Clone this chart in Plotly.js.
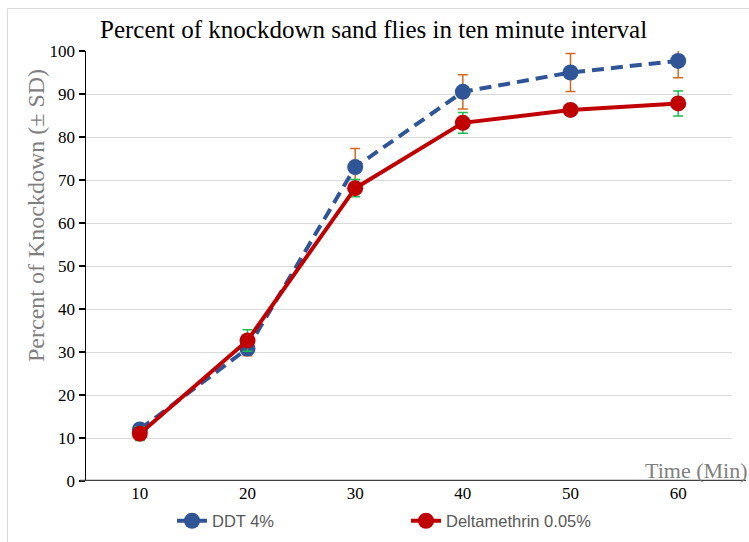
<!DOCTYPE html>
<html>
<head>
<meta charset="utf-8">
<script src="https://cdn.plot.ly/plotly-3.0.1.min.js"></script>
<style>html,body{margin:0;padding:0;background:#fff;}#chart{width:749px;height:542px;}</style>
</head>
<body>
<div id="chart"></div>
<script>
const times = [10, 20, 30, 40, 50, 60];
const ddt = [12, 30.8, 73, 90.5, 95, 97.7];
const ddtSD = [1.0, 1.7, 4.3, 4.0, 4.4, 3.9];
const delta = [11, 32.7, 68.1, 83.3, 86.3, 87.8];
const deltaSD = [1.6, 2.5, 2.0, 2.4, 0.4, 2.9];
const yTicks = [0, 10, 20, 30, 40, 50, 60, 70, 80, 90, 100];

const W = 749, H = 542, L = 86, R = 17, T = 51, B = 61;
const pw = W - L - R;
const px = v => (v - L) / pw;

const traces = [
  {
    x: times, y: ddt, name: 'DDT 4%', type: 'scatter', mode: 'lines+markers',
    line: {color: '#2F5597', width: 4, dash: '12px,7px'},
    marker: {color: '#2F5597', size: 16},
    error_y: {type: 'data', array: ddtSD, visible: true, color: '#D2691E', thickness: 1.5, width: 5}
  },
  {
    x: times, y: delta, name: 'Deltamethrin 0.05%', type: 'scatter', mode: 'lines+markers',
    line: {color: '#C00000', width: 4},
    marker: {color: '#C00000', size: 16},
    error_y: {type: 'data', array: deltaSD, visible: true, color: '#1DB954', thickness: 1.5, width: 5}
  }
];

const layout = {
  width: W, height: H,
  margin: {l: L, r: R, t: T, b: B},
  paper_bgcolor: '#fff', plot_bgcolor: '#fff',
  title: {
    text: 'Percent of knockdown sand flies in ten minute interval',
    font: {family: 'Liberation Serif', size: 25, color: '#000'},
    xref: 'container', yref: 'container', x: 100 / W, xanchor: 'left', y: 1 - 29 / H, yanchor: 'middle'
  },
  xaxis: {
    range: [5, 65], tickvals: times, ticktext: times.map(String),
    showgrid: false, zeroline: false, showline: false, ticks: '',
    tickfont: {family: 'Liberation Serif', size: 17, color: '#000'},
    fixedrange: true
  },
  yaxis: {
    range: [0, 100], tickvals: yTicks, showgrid: true, gridcolor: '#d9d9d9', gridwidth: 1,
    zeroline: false, showline: true, linecolor: '#000', linewidth: 1.5,
    ticks: 'outside', ticklen: 6, tickcolor: '#000', tickwidth: 1.2,
    tickfont: {family: 'Liberation Serif', size: 17, color: '#000'},
    fixedrange: true
  },
  showlegend: true,
  legend: {
    orientation: 'h', xref: 'container', yref: 'container',
    x: 172 / W, xanchor: 'left', y: 1 - 521 / H, yanchor: 'middle',
    font: {family: 'Liberation Sans', size: 16.5, color: '#595959'},
    entrywidth: 189, entrywidthmode: 'pixels',
    bgcolor: 'rgba(0,0,0,0)'
  },
  shapes: [
    {type: 'line', xref: 'paper', yref: 'y', x0: px(80), x1: px(746), y0: 0, y1: 0,
     line: {color: '#404040', width: 2.5}},
    {type: 'line', xref: 'paper', yref: 'paper', x0: px(7.5), x1: px(749), y0: 1 + (T - 8.5) / (H - T - B), y1: 1 + (T - 8.5) / (H - T - B),
     line: {color: '#d9d9d9', width: 1}},
    {type: 'line', xref: 'paper', yref: 'paper', x0: px(7.5), x1: px(7.5), y0: 1 + (T - 8.5) / (H - T - B), y1: -(B) / (H - T - B),
     line: {color: '#d9d9d9', width: 1}}
  ],
  annotations: [
    {text: 'Time (Min)', xref: 'paper', yref: 'paper', x: px(749), xanchor: 'right',
     y: 1 - (470 - T) / (H - T - B), yanchor: 'middle', showarrow: false,
     font: {family: 'Liberation Serif', size: 22, color: '#7f7f7f'}},
    {text: 'Percent of Knockdown (± SD)', xref: 'paper', yref: 'paper', x: px(36), xanchor: 'center',
     y: 1 - (216 - T) / (H - T - B), yanchor: 'middle', textangle: -90, showarrow: false,
     font: {family: 'Liberation Serif', size: 24, color: '#7f7f7f'}}
  ]
};

Plotly.newPlot('chart', traces, layout, {displayModeBar: false, staticPlot: true});
</script>
</body>
</html>
